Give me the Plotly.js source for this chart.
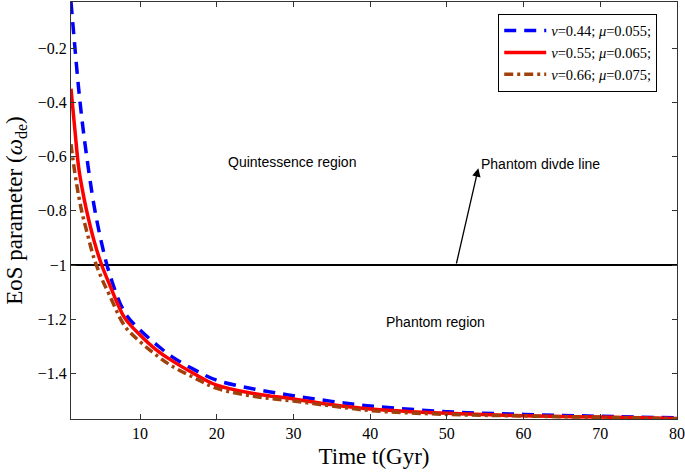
<!DOCTYPE html>
<html>
<head>
<meta charset="utf-8">
<script src="https://cdn.plot.ly/plotly-3.0.1.min.js"></script>
<style>html,body{margin:0;padding:0;background:#fff;}#chart{width:685px;height:474px;}</style>
</head>
<body>
<div id="chart"></div>
<script>
const timeGyr = [1, 1.5, 2, 2.5, 3, 4, 5, 6, 8, 10, 12, 14, 17, 20, 25, 30, 35, 40, 50, 60, 70, 80];
const wdeBlue = [-0.03, -0.195, -0.35, -0.48, -0.59, -0.78, -0.92, -1.03, -1.175, -1.24, -1.29, -1.335, -1.385, -1.425, -1.458, -1.482, -1.503, -1.52, -1.541, -1.551, -1.558, -1.564];
const wdeRed = [-0.35, -0.5, -0.64, -0.725, -0.795, -0.91, -1.0, -1.07, -1.195, -1.258, -1.31, -1.35, -1.40, -1.443, -1.475, -1.494, -1.515, -1.531, -1.547, -1.556, -1.561, -1.566];
const wdeBrown = [-0.555, -0.66, -0.745, -0.815, -0.87, -0.975, -1.05, -1.11, -1.225, -1.283, -1.33, -1.37, -1.415, -1.455, -1.485, -1.502, -1.52, -1.537, -1.551, -1.557, -1.562, -1.567];
const seriesNames = ['<i>ν</i>=0.44; <i>μ</i>=0.055;', '<i>ν</i>=0.55; <i>μ</i>=0.065;', '<i>ν</i>=0.66; <i>μ</i>=0.075;'];
const divideX = [1, 80];
const divideY = [-1, -1];
const xTicks = [10, 20, 30, 40, 50, 60, 70, 80];
const yTicks = [-1.4, -1.2, -1, -0.8, -0.6, -0.4, -0.2];

const serif = 'Liberation Serif, Times New Roman, serif';
const sans = 'Liberation Sans, Arial, sans-serif';

const traces = [
  {x: divideX, y: divideY, mode: 'lines', line: {color: '#000', width: 2}, showlegend: false, hoverinfo: 'skip'},
  {x: timeGyr, y: wdeBlue, name: seriesNames[0], mode: 'lines', line: {color: '#0000ff', width: 3.5, dash: '12px,8px', shape: 'spline'}},
  {x: timeGyr, y: wdeRed, name: seriesNames[1], mode: 'lines', line: {color: '#ff0000', width: 3.5, shape: 'spline'}},
  {x: timeGyr, y: wdeBrown, name: seriesNames[2], mode: 'lines', line: {color: '#a0400a', width: 3.5, dash: '9px,4px,3px,4px', shape: 'spline'}}
];

const layout = {
  width: 685, height: 474,
  margin: {l: 71, r: 8, t: 2, b: 55},
  paper_bgcolor: '#fff', plot_bgcolor: '#fff',
  showlegend: true,
  legend: {x: 0.705, y: 0.972, xanchor: 'left', yanchor: 'top', bordercolor: '#000', borderwidth: 1,
    bgcolor: '#fff', font: {family: serif, size: 14.5, color: '#000'}, tracegroupgap: 0, itemwidth: 42},
  xaxis: {range: [1, 80], tickvals: xTicks, ticks: 'inside', ticklen: 5, tickcolor: '#333',
    showline: true, linecolor: '#333', linewidth: 1, mirror: 'ticks', showgrid: false, zeroline: false,
    tickfont: {family: serif, size: 16, color: '#000'},
    title: {text: 'Time t(Gyr)', font: {family: serif, size: 23, color: '#000'}, standoff: 6}},
  yaxis: {range: [-1.568, -0.03], tickvals: yTicks, ticks: 'inside', ticklen: 5, tickcolor: '#333',
    showline: true, linecolor: '#333', linewidth: 1, mirror: 'ticks', showgrid: false, zeroline: false,
    tickfont: {family: serif, size: 16, color: '#000'},
    title: {text: 'EoS parameter (<i>ω</i><sub>de</sub>)', font: {family: serif, size: 23, color: '#000'}, standoff: 8}},
  annotations: [
    {x: 29.8, y: -0.62, xref: 'x', yref: 'y', text: 'Quintessence region', showarrow: false,
      font: {family: sans, size: 14, color: '#000'}},
    {x: 48.5, y: -1.21, xref: 'x', yref: 'y', text: 'Phantom region', showarrow: false,
      font: {family: sans, size: 14, color: '#000'}},
    {x: 54.2, y: -0.627, xref: 'x', yref: 'y', xanchor: 'left', text: 'Phantom divde line', showarrow: false,
      font: {family: sans, size: 14, color: '#000'}},
    {x: 54.1, y: -0.643, xref: 'x', yref: 'y', ax: 51.2, ay: -1.0, axref: 'x', ayref: 'y', text: '',
      showarrow: true, arrowhead: 2, arrowsize: 1.3, arrowwidth: 1.3, arrowcolor: '#000'}
  ]
};

Plotly.newPlot('chart', traces, layout, {displayModeBar: false, staticPlot: true});
</script>
</body>
</html>
